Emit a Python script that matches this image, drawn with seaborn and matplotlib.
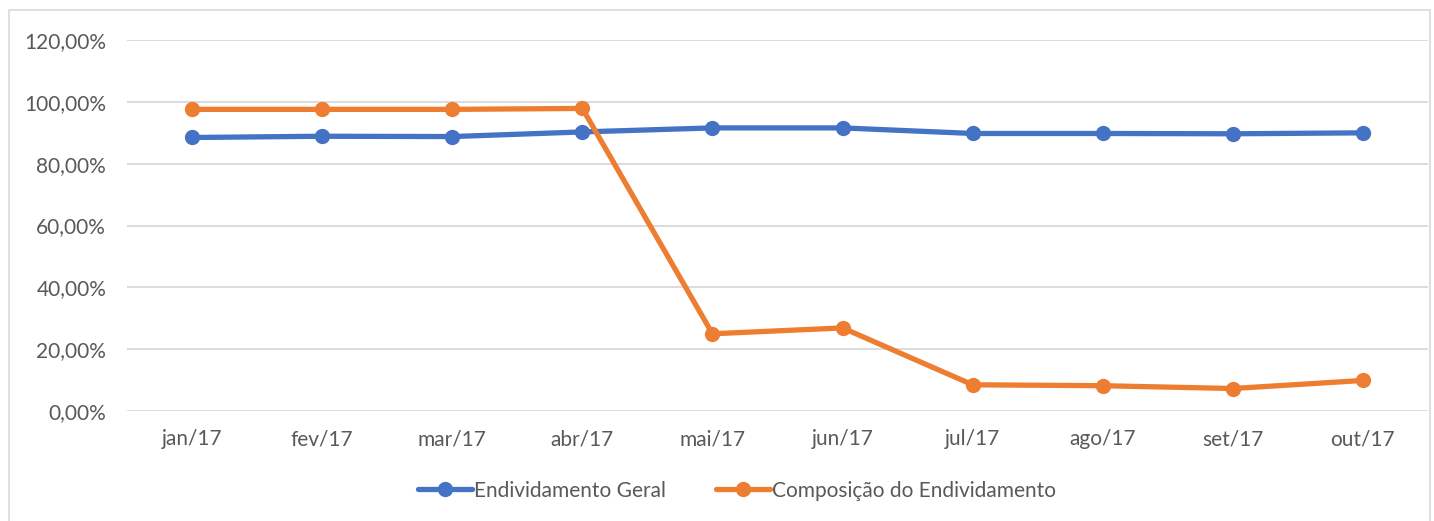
import matplotlib
matplotlib.use("Agg")
import matplotlib.pyplot as plt
import matplotlib.patches as mpatches
from matplotlib.ticker import FuncFormatter
import seaborn as sns
import pandas as pd

# data
meses = ["jan/17", "fev/17", "mar/17", "abr/17", "mai/17",
         "jun/17", "jul/17", "ago/17", "set/17", "out/17"]
endividamento_geral = [88.5, 88.9, 88.8, 90.3, 91.6, 91.6, 89.8, 89.8, 89.7, 90.0]
composicao_endividamento = [97.6, 97.6, 97.6, 97.9, 25.0, 26.9, 8.5, 8.2, 7.3, 9.9]

series_names = ["Endividamento Geral", "Composição do Endividamento"]
cores = ["#4472C4", "#ED7D31"]

df = pd.DataFrame({
    "mes": meses * 2,
    "valor": endividamento_geral + composicao_endividamento,
    "serie": [series_names[0]] * len(meses) + [series_names[1]] * len(meses),
})

sns.set_style("white")
plt.rcParams["font.family"] = ["Lato", "DejaVu Sans"]
texto = "#595959"
fs = 15

fig = plt.figure(figsize=(14.34, 5.21), dpi=100)
ax = fig.add_axes([0.0886, 0.211, 0.9072, 0.712])

sns.lineplot(data=df, x="mes", y="valor", hue="serie", hue_order=series_names,
             palette=cores, sort=False, marker="o", markersize=11,
             markeredgewidth=0, linewidth=3.8, ax=ax)

ax.set_xlim(-0.5, len(meses) - 0.5)
ax.set_ylim(0, 120)
ax.set_yticks(range(0, 121, 20))
ax.yaxis.set_major_formatter(FuncFormatter(lambda v, p: f"{v:.2f}".replace(".", ",") + "%"))
ax.grid(axis="y", color="#d9d9d9", linewidth=1.3)
ax.set_axisbelow(True)
for s in ax.spines.values():
    s.set_visible(False)
ax.tick_params(axis="both", length=0, labelsize=fs, labelcolor=texto)
ax.tick_params(axis="x", pad=13)
ax.tick_params(axis="y", pad=15)
ax.set_xlabel("")
ax.set_ylabel("")

handles, labels = ax.get_legend_handles_labels()
ax.get_legend().remove()
fig.legend(handles, labels, loc="center", bbox_to_anchor=(0.514, 0.058), ncol=2,
           frameon=False, fontsize=fs, labelcolor=texto, handlelength=2.6,
           handletextpad=0.1, columnspacing=2.4)

# light border around the chart area
fig.patches.append(mpatches.Rectangle((0.006, -0.01), 0.991, 0.99, transform=fig.transFigure,
                                      fill=False, edgecolor="#d9d9d9", linewidth=1.2))

fig.savefig("out.png", dpi=100)
